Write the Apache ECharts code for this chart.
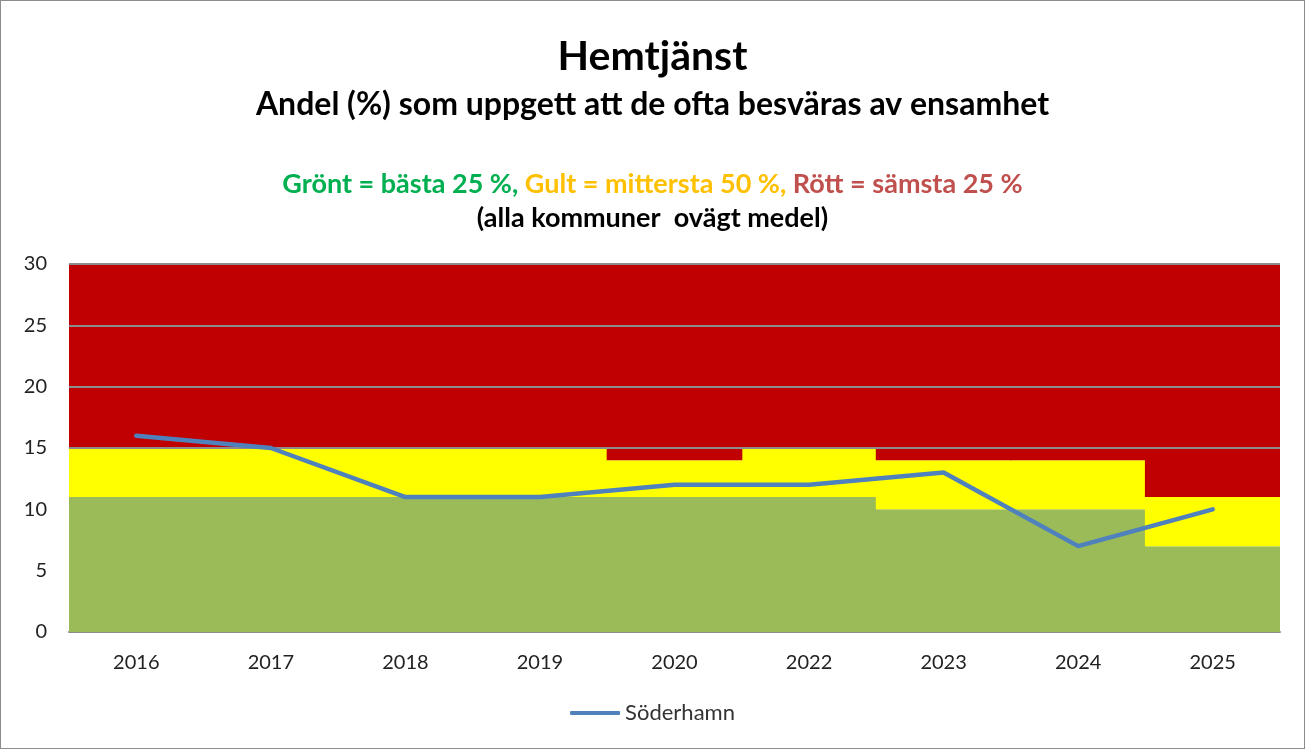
<!DOCTYPE html>
<html>
<head>
<meta charset="utf-8">
<script src="https://cdn.jsdelivr.net/npm/echarts@6/dist/echarts.min.js"></script>
<style>
  html, body { margin: 0; padding: 0; background: #fff; }
  #chart { width: 1305px; height: 749px; box-sizing: border-box; border: 1px solid #8c8c8c; }
</style>
</head>
<body>
<div id="chart"></div>
<script>
const YEARS = ['2016', '2017', '2018', '2019', '2020', '2022', '2023', '2024', '2025'];
// upper edge of the green band (best 25 %) and of the yellow band (middle 50 %)
const GREEN_TOP = [11, 11, 11, 11, 11, 11, 10, 10, 7];
const YELLOW_TOP = [15, 15, 15, 15, 14, 15, 14, 14, 11];
const AXIS_MAX = 30;
const SODERHAMN = [16, 15, 11, 11, 12, 12, 13, 7, 10];
const GRID_LINES = [15, 20, 25, 30];

const FONT = 'Lato, "Open Sans", sans-serif';

const yellowPart = YELLOW_TOP.map((v, i) => v - GREEN_TOP[i]);
const redPart = YELLOW_TOP.map(v => AXIS_MAX - v);

const band = (name, data, color) => ({
  name, type: 'bar', stack: 'band', data,
  barWidth: '100.8%',
  itemStyle: { color },
  silent: true,
  emphasis: { disabled: true },
});

const c = echarts.init(document.getElementById('chart'), null, { renderer: 'canvas' });
c.setOption({
  animation: false,
  textStyle: { fontFamily: FONT },
  title: [
    { text: 'Hemtjänst', left: 'center', top: 30,
      textStyle: { fontSize: 41, fontWeight: 'bold', color: '#000', fontFamily: FONT } },
    { text: 'Andel (%) som uppgett att de ofta besväras av ensamhet', left: 'center', top: 83,
      textStyle: { fontSize: 32, fontWeight: 'bold', color: '#000', fontFamily: FONT } },
    { text: '{g|Grönt = bästa 25 %, }{y|Gult = mittersta 50 %, }{r|Rött = sämsta 25 %}', left: 'center', top: 165,
      textStyle: {
        fontSize: 27, fontWeight: 'bold', fontFamily: FONT,
        rich: {
          g: { color: '#00B050', fontSize: 27, fontWeight: 'bold', fontFamily: FONT },
          y: { color: '#FFC000', fontSize: 27, fontWeight: 'bold', fontFamily: FONT },
          r: { color: '#C0504D', fontSize: 27, fontWeight: 'bold', fontFamily: FONT },
        },
      } },
    { text: '(alla kommuner  ovägt medel)', left: 'center', top: 199,
      textStyle: { fontSize: 27, fontWeight: 'bold', color: '#000', fontFamily: FONT } },
  ],
  grid: { left: 68, right: 24, top: 263, bottom: 116, containLabel: false },
  legend: {
    data: ['Söderhamn'], bottom: 19, left: 'center',
    itemWidth: 50, itemHeight: 4, itemGap: 4,
    icon: 'roundRect',
    textStyle: { fontSize: 22, color: '#333', fontFamily: FONT },
  },
  xAxis: {
    type: 'category', data: YEARS,
    axisLine: { lineStyle: { color: '#8c8c8c', width: 2 } },
    axisTick: { show: false },
    axisLabel: { fontSize: 20, color: '#222', margin: 21, fontFamily: FONT },
  },
  yAxis: {
    type: 'value', min: 0, max: AXIS_MAX, interval: 5,
    axisLine: { show: false },
    axisTick: { show: false },
    splitLine: { show: false },
    axisLabel: { fontSize: 20, color: '#222', margin: 22, fontFamily: FONT },
  },
  series: [
    band('Grönt', GREEN_TOP, '#9BBB59'),
    band('Gult', yellowPart, '#FFFF00'),
    band('Rött', redPart, '#C00000'),
    {
      name: 'Söderhamn', type: 'line', data: SODERHAMN,
      symbol: 'none', z: 10,
      lineStyle: { color: '#4F81BD', width: 4.5, cap: 'round', join: 'round' },
      itemStyle: { color: '#4F81BD' },
      markLine: {
        silent: true, symbol: 'none', label: { show: false },
        lineStyle: { color: '#8c8c8c', type: 'solid', width: 2 },
        data: GRID_LINES.map(v => ({ yAxis: v })),
        z: 5,
      },
    },
  ],
});
</script>
</body>
</html>
